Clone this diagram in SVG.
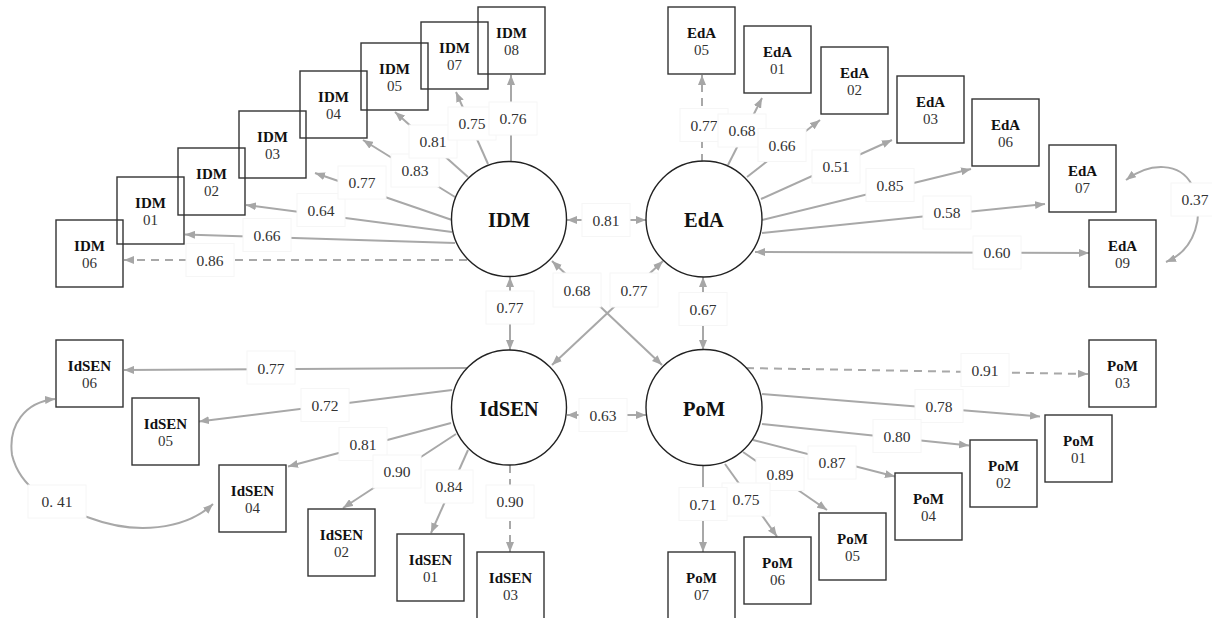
<svg xmlns="http://www.w3.org/2000/svg" width="1212" height="618" viewBox="0 0 1212 618" font-family="'Liberation Serif', 'Times New Roman', serif">
<defs>
<style>
.c{stroke:#a8a8a8;stroke-width:2;fill:none;marker-end:url(#ah)}
.d{stroke-dasharray:8,6}
.b{marker-start:url(#ah)}
.lb rect{fill:#fff;stroke:#f6f6f6;stroke-width:1}
.lb text{font-size:15.5px;fill:#333;text-anchor:middle}
.box rect{fill:none;stroke:#333;stroke-width:1.4}
.box text{font-size:15px;text-anchor:middle}
.box .t{font-weight:bold;fill:#111}
.box .n{fill:#333}
.lat circle{fill:#fff;stroke:#222;stroke-width:1.4}
.lat text{font-size:20.5px;font-weight:bold;text-anchor:middle;fill:#111}
</style>
<marker id="ah" viewBox="0 0 10 8" refX="10" refY="4" markerWidth="10" markerHeight="8" markerUnits="userSpaceOnUse" orient="auto-start-reverse"><path d="M0,0 L10,4 L0,8 z" fill="#a6a6a6"/></marker>
</defs>
<rect width="1212" height="618" fill="#fff"/>

<g id="connectors">
<line class="c d" x1="467" y1="260" x2="124" y2="260"/>
<line class="c" x1="455" y1="243" x2="185" y2="234.5"/>
<line class="c" x1="452" y1="232" x2="246" y2="205"/>
<line class="c" x1="452" y1="220" x2="315" y2="173"/>
<line class="c" x1="455" y1="197" x2="363" y2="140"/>
<line class="c" x1="468" y1="177" x2="395" y2="112"/>
<line class="c" x1="488" y1="164" x2="456" y2="92"/>
<line class="c" x1="511" y1="162" x2="511" y2="75"/>
<line class="c d" x1="702" y1="162" x2="702" y2="75"/>
<line class="c" x1="728" y1="165" x2="762" y2="98"/>
<line class="c" x1="747" y1="177" x2="820" y2="120"/>
<line class="c" x1="761" y1="199" x2="892" y2="140"/>
<line class="c" x1="762" y1="220" x2="971" y2="169"/>
<line class="c" x1="762" y1="233" x2="1045" y2="204"/>
<line class="c b" x1="755" y1="252" x2="1089" y2="253"/>
<path class="c b" d="M1126,180 C1150,162 1180,162 1192,185 C1206,215 1195,250 1166,262"/>
<line class="c" x1="467" y1="368" x2="124" y2="370"/>
<line class="c" x1="452" y1="390" x2="199" y2="421.5"/>
<line class="c" x1="451" y1="423" x2="288" y2="466.5"/>
<line class="c" x1="456" y1="434" x2="343" y2="508"/>
<line class="c" x1="468" y1="450" x2="431" y2="533"/>
<line class="c d" x1="510" y1="465" x2="510" y2="552"/>
<path class="c b" d="M213,504 C185,530 135,535 90,518 C50,505 20,488 12,455 C8,425 25,402 55,399"/>
<line class="c d" x1="746" y1="368" x2="1088" y2="374"/>
<line class="c" x1="762" y1="394" x2="1040" y2="416.5"/>
<line class="c" x1="762" y1="424" x2="969" y2="445.5"/>
<line class="c" x1="753" y1="440" x2="895" y2="476.5"/>
<line class="c" x1="743" y1="452" x2="827" y2="510"/>
<line class="c" x1="725" y1="464" x2="777" y2="536.5"/>
<line class="c" x1="703" y1="465" x2="703" y2="552"/>
<line class="c b" x1="567" y1="220" x2="646" y2="220"/>
<line class="c b" x1="510" y1="277" x2="510" y2="350"/>
<line class="c b" x1="703" y1="277" x2="703" y2="350"/>
<line class="c b" x1="567" y1="415" x2="646" y2="415"/>
<line class="c b" x1="552" y1="261" x2="662" y2="365"/>
<line class="c b" x1="663" y1="261" x2="552" y2="365"/>
</g>

<g id="labels" class="lb">
<rect x="186" y="243.5" width="48" height="33"/><text x="210" y="265.5">0.86</text>
<rect x="243" y="218.5" width="48" height="33"/><text x="267" y="240.5">0.66</text>
<rect x="297" y="193.5" width="48" height="33"/><text x="321" y="215.5">0.64</text>
<rect x="338" y="166" width="48" height="33"/><text x="362" y="188">0.77</text>
<rect x="391" y="154" width="48" height="33"/><text x="415" y="176">0.83</text>
<rect x="409" y="125" width="48" height="33"/><text x="433" y="147">0.81</text>
<rect x="448" y="107" width="48" height="33"/><text x="472" y="129">0.75</text>
<rect x="489" y="102" width="48" height="33"/><text x="513" y="124">0.76</text>
<rect x="680" y="108.5" width="48" height="33"/><text x="704" y="130.5">0.77</text>
<rect x="718" y="114" width="48" height="33"/><text x="742" y="136">0.68</text>
<rect x="758" y="128.5" width="48" height="33"/><text x="782" y="150.5">0.66</text>
<rect x="812" y="150" width="48" height="33"/><text x="836" y="172">0.51</text>
<rect x="866" y="168.5" width="48" height="33"/><text x="890" y="190.5">0.85</text>
<rect x="923" y="196" width="48" height="33"/><text x="947" y="218">0.58</text>
<rect x="973" y="236" width="48" height="33"/><text x="997" y="258">0.60</text>
<rect x="1171" y="183" width="48" height="33"/><text x="1195" y="205">0.37</text>
<rect x="247" y="351" width="48" height="33"/><text x="271" y="373.5">0.77</text>
<rect x="301" y="388.5" width="48" height="33"/><text x="325" y="410.5">0.72</text>
<rect x="339" y="427.5" width="48" height="33"/><text x="363" y="449.5">0.81</text>
<rect x="373" y="455" width="48" height="33"/><text x="397" y="477">0.90</text>
<rect x="425" y="470" width="48" height="33"/><text x="449" y="492">0.84</text>
<rect x="486" y="485" width="48" height="33"/><text x="510" y="507">0.90</text>
<rect x="28" y="485" width="58" height="33"/><text x="57" y="507">0. 41</text>
<rect x="961" y="353.5" width="48" height="33"/><text x="985" y="375.5">0.91</text>
<rect x="915" y="389.5" width="48" height="33"/><text x="939" y="411.5">0.78</text>
<rect x="873" y="419.5" width="48" height="33"/><text x="897" y="441.5">0.80</text>
<rect x="808" y="446" width="48" height="33"/><text x="832" y="468">0.87</text>
<rect x="756" y="457.5" width="48" height="33"/><text x="780" y="479.5">0.89</text>
<rect x="722" y="483" width="48" height="33"/><text x="746" y="505">0.75</text>
<rect x="679" y="487.5" width="48" height="33"/><text x="703" y="509.5">0.71</text>
<rect x="582" y="203.5" width="48" height="33"/><text x="606" y="225.5">0.81</text>
<rect x="486" y="291" width="48" height="33"/><text x="510" y="313">0.77</text>
<rect x="679" y="292.5" width="48" height="33"/><text x="703" y="314.5">0.67</text>
<rect x="579" y="398.5" width="48" height="33"/><text x="603" y="420.5">0.63</text>
<rect x="553" y="273" width="48" height="34"/><text x="577" y="295.5">0.68</text>
<rect x="610" y="273" width="48" height="34"/><text x="634" y="295.5">0.77</text>
</g>

<g id="IDM" class="lat"><circle cx="509" cy="219" r="57.5"/><text x="509" y="227">IDM</text></g>
<g id="EdA" class="lat"><circle cx="704" cy="219" r="58"/><text x="704" y="227">EdA</text></g>
<g id="IdSEN" class="lat"><circle cx="509" cy="407.5" r="57.5"/><text x="509" y="415.5">IdSEN</text></g>
<g id="PoM" class="lat"><circle cx="704" cy="407.5" r="58"/><text x="704" y="415.5">PoM</text></g>

<g id="IDM06" class="box"><rect x="56" y="220" width="67" height="67"/><text class="t" x="89.5" y="251">IDM</text><text class="n" x="89.5" y="268">06</text></g>
<g id="IDM01" class="box"><rect x="117" y="177" width="67" height="67"/><text class="t" x="150.5" y="208">IDM</text><text class="n" x="150.5" y="225">01</text></g>
<g id="IDM02" class="box"><rect x="178" y="148" width="67" height="67"/><text class="t" x="211.5" y="179">IDM</text><text class="n" x="211.5" y="196">02</text></g>
<g id="IDM03" class="box"><rect x="239" y="111" width="67" height="67"/><text class="t" x="272.5" y="142">IDM</text><text class="n" x="272.5" y="159">03</text></g>
<g id="IDM04" class="box"><rect x="300" y="71" width="67" height="67"/><text class="t" x="333.5" y="102">IDM</text><text class="n" x="333.5" y="119">04</text></g>
<g id="IDM05" class="box"><rect x="361" y="43" width="67" height="67"/><text class="t" x="394.5" y="74">IDM</text><text class="n" x="394.5" y="91">05</text></g>
<g id="IDM07" class="box"><rect x="421" y="22" width="67" height="67"/><text class="t" x="454.5" y="53">IDM</text><text class="n" x="454.5" y="70">07</text></g>
<g id="IDM08" class="box"><rect x="478" y="7" width="67" height="67"/><text class="t" x="511.5" y="38">IDM</text><text class="n" x="511.5" y="55">08</text></g>

<g id="EdA05" class="box"><rect x="668" y="7" width="67" height="67"/><text class="t" x="701.5" y="38">EdA</text><text class="n" x="701.5" y="55">05</text></g>
<g id="EdA01" class="box"><rect x="744" y="26" width="67" height="67"/><text class="t" x="777.5" y="57">EdA</text><text class="n" x="777.5" y="74">01</text></g>
<g id="EdA02" class="box"><rect x="821" y="47" width="67" height="67"/><text class="t" x="854.5" y="78">EdA</text><text class="n" x="854.5" y="95">02</text></g>
<g id="EdA03" class="box"><rect x="897" y="76" width="67" height="67"/><text class="t" x="930.5" y="107">EdA</text><text class="n" x="930.5" y="124">03</text></g>
<g id="EdA06" class="box"><rect x="972" y="99" width="67" height="67"/><text class="t" x="1005.5" y="130">EdA</text><text class="n" x="1005.5" y="147">06</text></g>
<g id="EdA07" class="box"><rect x="1049" y="145" width="67" height="67"/><text class="t" x="1082.5" y="176">EdA</text><text class="n" x="1082.5" y="193">07</text></g>
<g id="EdA09" class="box"><rect x="1089" y="220" width="67" height="67"/><text class="t" x="1122.5" y="251">EdA</text><text class="n" x="1122.5" y="268">09</text></g>

<g id="IdSEN06" class="box"><rect x="56" y="340" width="67" height="67"/><text class="t" x="89.5" y="371">IdSEN</text><text class="n" x="89.5" y="388">06</text></g>
<g id="IdSEN05" class="box"><rect x="132" y="398" width="67" height="67"/><text class="t" x="165.5" y="429">IdSEN</text><text class="n" x="165.5" y="446">05</text></g>
<g id="IdSEN04" class="box"><rect x="219" y="465" width="67" height="67"/><text class="t" x="252.5" y="496">IdSEN</text><text class="n" x="252.5" y="513">04</text></g>
<g id="IdSEN02" class="box"><rect x="308" y="509" width="67" height="67"/><text class="t" x="341.5" y="540">IdSEN</text><text class="n" x="341.5" y="557">02</text></g>
<g id="IdSEN01" class="box"><rect x="397" y="534" width="67" height="67"/><text class="t" x="430.5" y="565">IdSEN</text><text class="n" x="430.5" y="582">01</text></g>
<g id="IdSEN03" class="box"><rect x="477" y="552" width="67" height="67"/><text class="t" x="510.5" y="583">IdSEN</text><text class="n" x="510.5" y="600">03</text></g>

<g id="PoM03" class="box"><rect x="1089" y="340" width="67" height="67"/><text class="t" x="1122.5" y="371">PoM</text><text class="n" x="1122.5" y="388">03</text></g>
<g id="PoM01" class="box"><rect x="1045" y="415" width="67" height="67"/><text class="t" x="1078.5" y="446">PoM</text><text class="n" x="1078.5" y="463">01</text></g>
<g id="PoM02" class="box"><rect x="970" y="440" width="67" height="67"/><text class="t" x="1003.5" y="471">PoM</text><text class="n" x="1003.5" y="488">02</text></g>
<g id="PoM04" class="box"><rect x="895" y="473" width="67" height="67"/><text class="t" x="928.5" y="504">PoM</text><text class="n" x="928.5" y="521">04</text></g>
<g id="PoM05" class="box"><rect x="819" y="513" width="67" height="67"/><text class="t" x="852.5" y="544">PoM</text><text class="n" x="852.5" y="561">05</text></g>
<g id="PoM06" class="box"><rect x="744" y="537" width="67" height="67"/><text class="t" x="777.5" y="568">PoM</text><text class="n" x="777.5" y="585">06</text></g>
<g id="PoM07" class="box"><rect x="668" y="552" width="67" height="67"/><text class="t" x="701.5" y="583">PoM</text><text class="n" x="701.5" y="600">07</text></g>
</svg>
